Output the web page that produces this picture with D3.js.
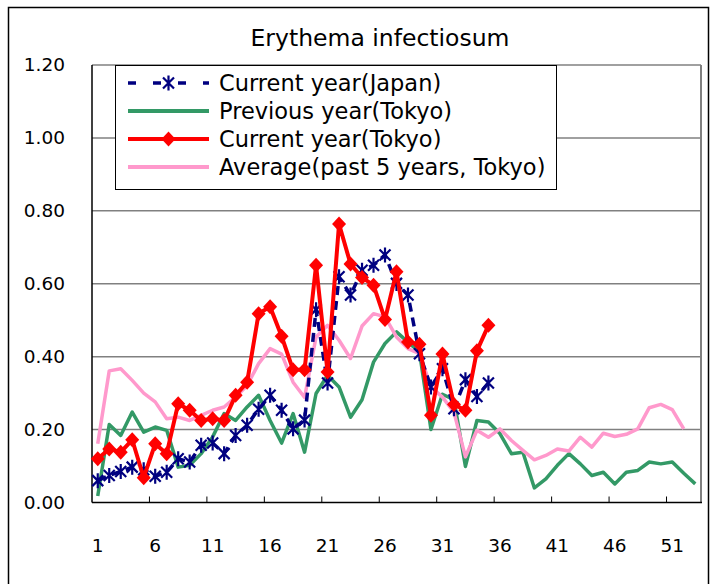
<!DOCTYPE html>
<html>
<head>
<meta charset="utf-8">
<script src="https://cdn.jsdelivr.net/npm/d3@7"></script>
<style>
  html, body { margin: 0; padding: 0; background: #fff; }
  svg { display: block; font-family: "DejaVu Sans", sans-serif; }
</style>
</head>
<body>
<div id="chart"></div>
<script>
// weeks 1..53
const weeks = d3.range(1, 54);
const xTickLabels = [1, 6, 11, 16, 21, 26, 31, 36, 41, 46, 51];
const yTicks = [0, 0.2, 0.4, 0.6, 0.8, 1.0, 1.2];

const currentJapan = [0.06, 0.074, 0.085, 0.097, 0.09, 0.072, 0.083, 0.12, 0.111, 0.157,
  0.163, 0.134, 0.184, 0.212, 0.256, 0.294, 0.253, 0.202, 0.226, 0.529,
  0.328, 0.619, 0.569, 0.637, 0.651, 0.679, 0.601, 0.569, 0.408, 0.317,
  0.367, 0.257, 0.337, 0.291, 0.328];

const previousTokyo = [0.018, 0.214, 0.184, 0.248, 0.193, 0.207, 0.198, 0.097, 0.102, 0.134,
  0.18, 0.244, 0.225, 0.262, 0.294, 0.225, 0.163, 0.244, 0.138, 0.299,
  0.349, 0.317, 0.234, 0.282, 0.385, 0.436, 0.468, 0.44, 0.413, 0.2,
  0.297, 0.282, 0.099, 0.225, 0.221, 0.189, 0.134, 0.138, 0.04, 0.065,
  0.102, 0.134, 0.106, 0.074, 0.083, 0.051, 0.083, 0.088, 0.111, 0.106,
  0.111, 0.08, 0.051];

const currentTokyo = [0.12, 0.147, 0.138, 0.172, 0.068, 0.161, 0.134, 0.271, 0.253, 0.225,
  0.23, 0.225, 0.294, 0.33, 0.518, 0.537, 0.456, 0.364, 0.364, 0.651,
  0.358, 0.764, 0.654, 0.617, 0.596, 0.502, 0.633, 0.44, 0.434, 0.239,
  0.407, 0.269, 0.253, 0.416, 0.486];

const average5y = [0.161, 0.361, 0.367, 0.335, 0.3, 0.276, 0.23, 0.234, 0.225, 0.239,
  0.253, 0.262, 0.289, 0.321, 0.381, 0.422, 0.407, 0.33, 0.288, 0.454,
  0.486, 0.445, 0.395, 0.484, 0.518, 0.509, 0.454, 0.422, 0.408, 0.317,
  0.289, 0.248, 0.125, 0.198, 0.179, 0.202, 0.17, 0.143, 0.117, 0.129,
  0.147, 0.141, 0.179, 0.152, 0.19, 0.181, 0.187, 0.202, 0.26, 0.269,
  0.255, 0.202];

const W = 718, H = 584;
const plot = { left: 92, right: 701, top: 65, bottom: 502.5 };

const svg = d3.select("#chart").append("svg")
  .attr("width", W).attr("height", H);

svg.append("rect").attr("width", W).attr("height", H).attr("fill", "#fff");

// outer chart border
svg.append("rect")
  .attr("x", 8.5).attr("y", 7.5)
  .attr("width", 700).attr("height", 600)
  .attr("fill", "none").attr("stroke", "#000").attr("stroke-width", 1.5);

svg.append("text")
  .attr("x", 380).attr("y", 46)
  .attr("text-anchor", "middle")
  .attr("font-size", 23.5)
  .attr("fill", "#000")
  .text("Erythema infectiosum");

const x = d3.scaleBand()
  .domain(weeks)
  .range([plot.left, plot.right])
  .paddingInner(0).paddingOuter(0);

const y = d3.scaleLinear()
  .domain([0, 1.2])
  .range([plot.bottom, plot.top]);

const cx = d => x(d) + x.bandwidth() / 2;

// gridlines
svg.append("g")
  .selectAll("line")
  .data(yTicks.filter(d => d > 0))
  .join("line")
  .attr("x1", plot.left).attr("x2", plot.right)
  .attr("y1", d => y(d)).attr("y2", d => y(d))
  .attr("stroke", "#808080").attr("stroke-width", 1.5);

// right border of plot area
svg.append("line")
  .attr("x1", plot.right).attr("x2", plot.right)
  .attr("y1", plot.top).attr("y2", plot.bottom)
  .attr("stroke", "#808080").attr("stroke-width", 2);

// y axis labels
svg.append("g")
  .selectAll("text")
  .data(yTicks)
  .join("text")
  .attr("x", 65)
  .attr("y", d => y(d))
  .attr("dy", "0.35em")
  .attr("text-anchor", "end")
  .attr("font-size", 18.5)
  .attr("fill", "#000")
  .text(d => d3.format(".2f")(d));

// x ticks at category boundaries every 5 weeks
const tickWeeks = xTickLabels.slice(1);
svg.append("g")
  .selectAll("line")
  .data(tickWeeks)
  .join("line")
  .attr("x1", d => x(d)).attr("x2", d => x(d))
  .attr("y1", plot.bottom).attr("y2", plot.bottom - 6)
  .attr("stroke", "#000").attr("stroke-width", 1);

svg.append("g")
  .selectAll("text")
  .data(xTickLabels)
  .join("text")
  .attr("x", d => cx(d))
  .attr("y", 546)
  .attr("dy", "0.35em")
  .attr("text-anchor", "middle")
  .attr("font-size", 18.5)
  .attr("fill", "#000")
  .text(d => d);

// axis lines
svg.append("line")
  .attr("x1", plot.left).attr("x2", plot.left)
  .attr("y1", plot.top).attr("y2", plot.bottom)
  .attr("stroke", "#000").attr("stroke-width", 1.5);
svg.append("line")
  .attr("x1", plot.left).attr("x2", plot.right + 1)
  .attr("y1", plot.bottom).attr("y2", plot.bottom)
  .attr("stroke", "#000").attr("stroke-width", 1.5);

const line = d3.line()
  .x((d, i) => cx(weeks[i]))
  .y(d => y(d));

const diamond = "M0,-7.5L7,0L0,7.5L-7,0Z";
const asterisk = "M-5.5,-5.5L5.5,5.5M-5.5,5.5L5.5,-5.5M0,-7.5L0,7.5";

// previous year (Tokyo)
svg.append("path")
  .datum(previousTokyo)
  .attr("d", line)
  .attr("fill", "none").attr("stroke", "#339966").attr("stroke-width", 3.5)
  .attr("stroke-linejoin", "round");

// average
svg.append("path")
  .datum(average5y)
  .attr("d", line)
  .attr("fill", "none").attr("stroke", "#ff99cc").attr("stroke-width", 3.5)
  .attr("stroke-linejoin", "round");

// current year (Japan)
svg.append("path")
  .datum(currentJapan)
  .attr("d", line)
  .attr("fill", "none").attr("stroke", "#000080").attr("stroke-width", 3.5)
  .attr("stroke-dasharray", "9,6");
svg.append("g")
  .selectAll("path")
  .data(currentJapan)
  .join("path")
  .attr("transform", (d, i) => `translate(${cx(weeks[i])},${y(d)})`)
  .attr("d", asterisk)
  .attr("fill", "none").attr("stroke", "#000080").attr("stroke-width", 2.2);

// current year (Tokyo)
svg.append("path")
  .datum(currentTokyo)
  .attr("d", line)
  .attr("fill", "none").attr("stroke", "#ff0000").attr("stroke-width", 4)
  .attr("stroke-linejoin", "round");
svg.append("g")
  .selectAll("path")
  .data(currentTokyo)
  .join("path")
  .attr("transform", (d, i) => `translate(${cx(weeks[i])},${y(d)})`)
  .attr("d", diamond)
  .attr("fill", "#ff0000");

// legend
const legendItems = [
  { name: "Current year(Japan)", color: "#000080", dash: "8,17", marker: "asterisk" },
  { name: "Previous year(Tokyo)", color: "#339966", dash: null, marker: null },
  { name: "Current year(Tokyo)", color: "#ff0000", dash: null, marker: "diamond" },
  { name: "Average(past 5 years, Tokyo)", color: "#ff99cc", dash: null, marker: null }
];

const legend = svg.append("g");
legend.append("rect")
  .attr("x", 115.5).attr("y", 65.5)
  .attr("width", 441).attr("height", 124)
  .attr("fill", "#fff").attr("stroke", "#000").attr("stroke-width", 1);

const ly = i => 83 + i * 28;
legendItems.forEach((it, i) => {
  const g = legend.append("g");
  g.append("line")
    .attr("x1", 128).attr("x2", 209)
    .attr("y1", ly(i)).attr("y2", ly(i))
    .attr("stroke", it.color).attr("stroke-width", i === 0 ? 3.5 : 4)
    .attr("stroke-dasharray", it.dash);
  if (it.marker === "asterisk") {
    g.append("path").attr("transform", `translate(168.5,${ly(i)})`)
      .attr("d", asterisk).attr("fill", "none")
      .attr("stroke", it.color).attr("stroke-width", 2.2);
  } else if (it.marker === "diamond") {
    g.append("path").attr("transform", `translate(168.5,${ly(i)})`)
      .attr("d", diamond).attr("fill", it.color);
  }
  g.append("text")
    .attr("x", 219).attr("y", ly(i))
    .attr("dy", "0.35em")
    .attr("font-size", 22.5)
    .attr("fill", "#000")
    .text(it.name);
});
</script>
</body>
</html>
